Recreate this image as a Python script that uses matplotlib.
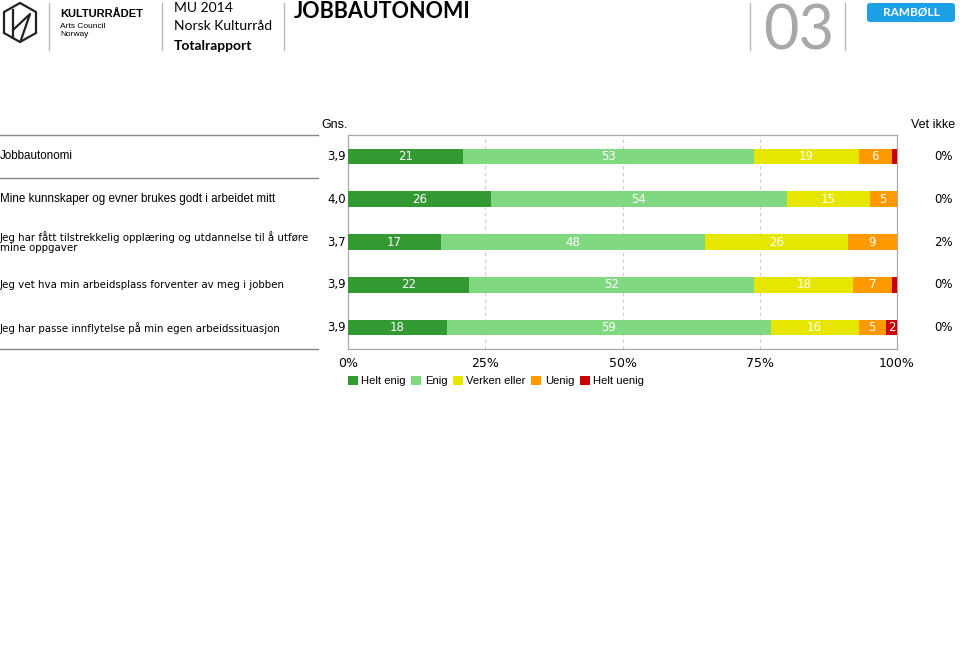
import matplotlib
matplotlib.use("Agg")
import matplotlib.pyplot as plt
from matplotlib.patches import Polygon, FancyBboxPatch, Patch
import numpy as np

categories = [
    "Jobbautonomi",
    "Mine kunnskaper og evner brukes godt i arbeidet mitt",
    "Jeg har fått tilstrekkelig opplæring og utdannelse til å utføre\nmine oppgaver",
    "Jeg vet hva min arbeidsplass forventer av meg i jobben",
    "Jeg har passe innflytelse på min egen arbeidssituasjon",
]
gns = ["3,9", "4,0", "3,7", "3,9", "3,9"]
vet_ikke = ["0%", "0%", "2%", "0%", "0%"]
series_names = ["Helt enig", "Enig", "Verken eller", "Uenig", "Helt uenig"]
helt_enig = [21, 26, 17, 22, 18]
enig = [53, 54, 48, 52, 59]
verken = [19, 15, 26, 18, 16]
uenig = [6, 5, 9, 7, 5]
helt_uenig = [1, 0, 0, 1, 2]
colors = ["#339933", "#80d880", "#e6e600", "#ff9900", "#cc0000"]
xticks = [0, 25, 50, 75, 100]
xticklabels = ["0%", "25%", "50%", "75%", "100%"]

W, H = 960, 647
fig = plt.figure(figsize=(9.6, 6.47), dpi=100)

def fx(px):
    return px / W

def fy(py):
    return 1 - py / H

ax = fig.add_axes([fx(348), fy(349), fx(897) - fx(348), fy(135) - fy(349)])
series = [helt_enig, enig, verken, uenig, helt_uenig]
y = np.arange(len(categories))
left = np.zeros(len(categories))
for vals, col in zip(series, colors):
    vals = np.array(vals, dtype=float)
    ax.barh(y, vals, left=left, height=0.36, color=col, zorder=3)
    for yi, (l, v) in enumerate(zip(left, vals)):
        if v >= 2:
            ax.text(l + v / 2, yi, f"{int(v)}", ha="center", va="center",
                    color="white", fontsize=8.5, zorder=4)
    left += vals

ax.set_xlim(0, 100)
ax.set_ylim(len(categories) - 0.5, -0.5)
ax.set_yticks([])
ax.set_xticks(xticks)
ax.set_xticklabels(xticklabels, fontsize=9)
ax.tick_params(axis="x", length=0, pad=6)
for v in xticks[1:-1]:
    ax.axvline(v, color="#cccccc", lw=0.8, ls=(0, (3, 3)), zorder=1)
for s in ax.spines.values():
    s.set_color("#aaaaaa")
    s.set_linewidth(0.9)

# row labels, Gns and Vet ikke (aligned to bar rows)
for i, cat in enumerate(categories):
    fam = "Liberation Sans" if i < 2 else "DejaVu Sans"
    fs = 8.4 if i < 2 else 7.35
    disp = ax.transData.transform((0, i))
    yfig = fig.transFigure.inverted().transform(disp)[1]
    fig.text(fx(0), yfig, cat, family=fam, fontsize=fs, ha="left", va="center",
             linespacing=1.05)
    fig.text(fx(346), yfig, gns[i], fontsize=8.5, ha="right", va="center")
    fig.text(fx(953), yfig, vet_ikke[i], fontsize=8.5, ha="right", va="center")

fig.text(fx(348), fy(125), "Gns.", fontsize=9, ha="right", va="center",
         family="Liberation Sans")
fig.text(fx(955), fy(125), "Vet ikke", fontsize=9, ha="right", va="center",
         family="Liberation Sans")

# separator lines
for py in (135, 178, 349):
    fig.add_artist(plt.Line2D([fx(0), fx(318)], [fy(py), fy(py)], color="#888888", lw=1.0))

# legend
handles = [Patch(facecolor=c, edgecolor="none") for c in colors]
fig.legend(handles, series_names, loc="upper left",
           bbox_to_anchor=(fx(343), fy(371)), ncol=5, frameon=False,
           handlelength=0.9, handleheight=0.9, handletextpad=0.3,
           columnspacing=0.5, borderaxespad=0,
           prop={"family": "Liberation Sans", "size": 8.1})

# header
hexx = np.array([20, 36, 36, 20, 4, 4])
hexy = np.array([3, 12, 33, 42, 33, 12])
fig.add_artist(Polygon(np.column_stack([fx(hexx), fy(hexy)]), closed=True,
                       fill=False, ec="#222222", lw=1.6, transform=fig.transFigure))
fig.add_artist(plt.Line2D([fx(13), fx(13)], [fy(10), fy(38)], color="#222222", lw=1.6))
fig.add_artist(plt.Line2D([fx(13), fx(30), fx(21)], [fy(30), fy(14), fy(40)], color="#222222", lw=1.6))
for px in (49, 162, 284, 750, 845):
    fig.add_artist(plt.Line2D([fx(px), fx(px)], [fy(3), fy(50)], color="#bbbbbb", lw=1.0))
fig.text(fx(60), fy(14), "KULTURRÅDET", fontsize=8, fontweight="bold", ha="left", va="center",
         family="Liberation Sans")
fig.text(fx(60), fy(27), "Arts Council", fontsize=6, ha="left", va="center", family="Liberation Sans")
fig.text(fx(60), fy(35), "Norway", fontsize=6, ha="left", va="center", family="Liberation Sans")
fig.text(fx(174), fy(8), "MU 2014", fontsize=10, ha="left", va="center", family="Lato")
fig.text(fx(174), fy(26), "Norsk Kulturråd", fontsize=10, ha="left", va="center", family="Lato")
fig.text(fx(174), fy(46), "Totalrapport", fontsize=10, fontweight="bold", ha="left", va="center", family="Lato")
fig.text(fx(294), fy(11), "JOBBAUTONOMI", fontsize=15.5, fontweight="bold", ha="left", va="center", family="Lato")
fig.text(fx(763), fy(50), "03", fontsize=44, fontweight="normal", color="#a8a8a8", ha="left",
         va="baseline", family="Lato")
fig.add_artist(FancyBboxPatch((fx(867), fy(22)), fx(88), fy(3) - fy(22),
                              boxstyle="round,pad=0,rounding_size=0.004",
                              fc="#1da1e6", ec="none", transform=fig.transFigure))
fig.text(fx(911), fy(12.5), "RAMBØLL", fontsize=8.5, fontweight="bold", color="white",
         ha="center", va="center", family="Lato")

fig.savefig("out.png", dpi=100)
